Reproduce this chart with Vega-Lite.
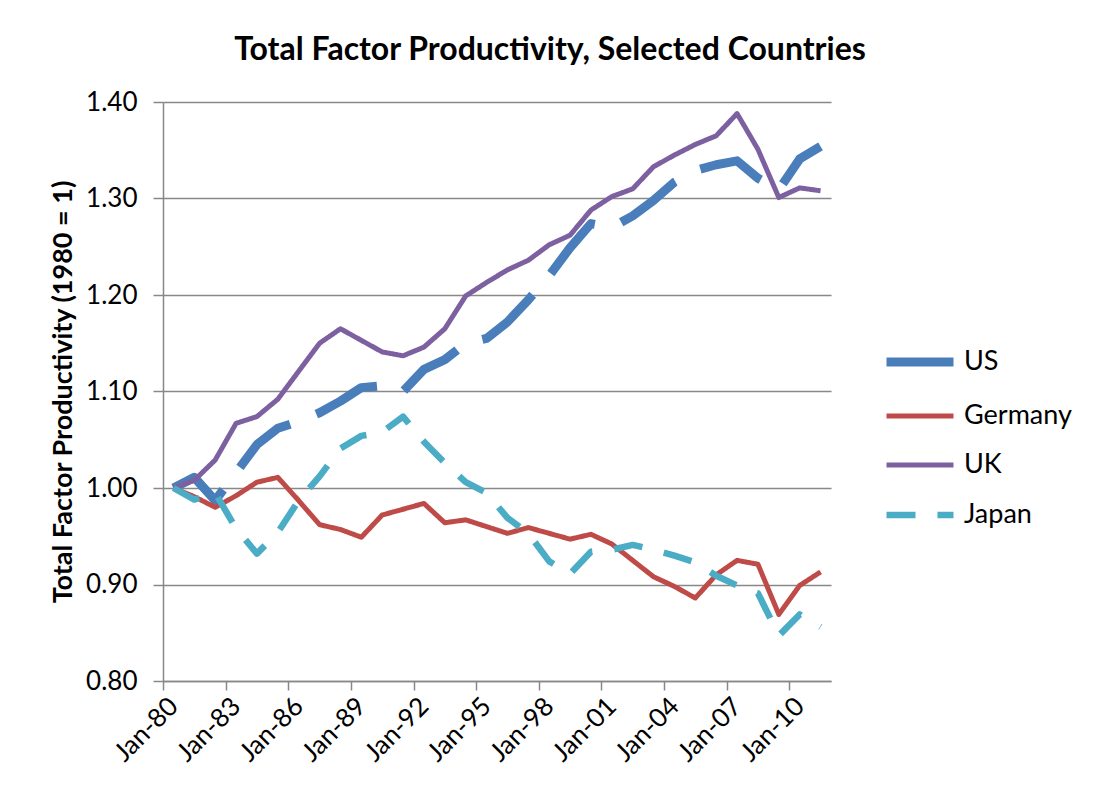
{
  "$schema": "https://vega.github.io/schema/vega-lite/v6.json",
  "width": 668,
  "height": 579,
  "autosize": {"type": "none"},
  "padding": {"left": 163, "top": 102, "right": 262, "bottom": 111},
  "background": "white",
  "title": {"text": "Total  Factor Productivity, Selected Countries", "font": "Lato", "fontSize": 32, "fontWeight": "bold", "color": "black", "anchor": "middle", "dx": 53, "offset": -3, "baseline": "alphabetic"},
  "config": {
    "view": {"stroke": null},
    "axis": {"domainColor": "#888888", "tickColor": "#888888", "gridColor": "#888888", "domainWidth": 1.5, "tickWidth": 1.5, "gridWidth": 1.5, "labelFont": "Lato", "labelColor": "black", "titleFont": "Lato", "titleColor": "black"},
    "legend": {"labelFont": "Lato", "labelFontSize": 27, "labelColor": "black"}
  },
  "data": {"values": [
    {"year": 1980, "country": "US", "value": 1.000}, {"year": 1981, "country": "US", "value": 1.011}, {"year": 1982, "country": "US", "value": 0.987}, {"year": 1983, "country": "US", "value": 1.016},
    {"year": 1984, "country": "US", "value": 1.045}, {"year": 1985, "country": "US", "value": 1.062}, {"year": 1986, "country": "US", "value": 1.069}, {"year": 1987, "country": "US", "value": 1.078},
    {"year": 1988, "country": "US", "value": 1.090}, {"year": 1989, "country": "US", "value": 1.104}, {"year": 1990, "country": "US", "value": 1.106}, {"year": 1991, "country": "US", "value": 1.100},
    {"year": 1992, "country": "US", "value": 1.123}, {"year": 1993, "country": "US", "value": 1.133}, {"year": 1994, "country": "US", "value": 1.150}, {"year": 1995, "country": "US", "value": 1.155},
    {"year": 1996, "country": "US", "value": 1.172}, {"year": 1997, "country": "US", "value": 1.195}, {"year": 1998, "country": "US", "value": 1.220}, {"year": 1999, "country": "US", "value": 1.249},
    {"year": 2000, "country": "US", "value": 1.274}, {"year": 2001, "country": "US", "value": 1.270}, {"year": 2002, "country": "US", "value": 1.282}, {"year": 2003, "country": "US", "value": 1.298},
    {"year": 2004, "country": "US", "value": 1.317}, {"year": 2005, "country": "US", "value": 1.329}, {"year": 2006, "country": "US", "value": 1.335}, {"year": 2007, "country": "US", "value": 1.339},
    {"year": 2008, "country": "US", "value": 1.321}, {"year": 2009, "country": "US", "value": 1.309}, {"year": 2010, "country": "US", "value": 1.341}, {"year": 2011, "country": "US", "value": 1.354},

    {"year": 1980, "country": "Germany", "value": 1.000}, {"year": 1981, "country": "Germany", "value": 0.991}, {"year": 1982, "country": "Germany", "value": 0.980}, {"year": 1983, "country": "Germany", "value": 0.992},
    {"year": 1984, "country": "Germany", "value": 1.006}, {"year": 1985, "country": "Germany", "value": 1.011}, {"year": 1986, "country": "Germany", "value": 0.987}, {"year": 1987, "country": "Germany", "value": 0.962},
    {"year": 1988, "country": "Germany", "value": 0.957}, {"year": 1989, "country": "Germany", "value": 0.949}, {"year": 1990, "country": "Germany", "value": 0.972}, {"year": 1991, "country": "Germany", "value": 0.978},
    {"year": 1992, "country": "Germany", "value": 0.984}, {"year": 1993, "country": "Germany", "value": 0.964}, {"year": 1994, "country": "Germany", "value": 0.967}, {"year": 1995, "country": "Germany", "value": 0.960},
    {"year": 1996, "country": "Germany", "value": 0.953}, {"year": 1997, "country": "Germany", "value": 0.959}, {"year": 1998, "country": "Germany", "value": 0.953}, {"year": 1999, "country": "Germany", "value": 0.947},
    {"year": 2000, "country": "Germany", "value": 0.952}, {"year": 2001, "country": "Germany", "value": 0.942}, {"year": 2002, "country": "Germany", "value": 0.925}, {"year": 2003, "country": "Germany", "value": 0.908},
    {"year": 2004, "country": "Germany", "value": 0.898}, {"year": 2005, "country": "Germany", "value": 0.886}, {"year": 2006, "country": "Germany", "value": 0.910}, {"year": 2007, "country": "Germany", "value": 0.925},
    {"year": 2008, "country": "Germany", "value": 0.921}, {"year": 2009, "country": "Germany", "value": 0.869}, {"year": 2010, "country": "Germany", "value": 0.899}, {"year": 2011, "country": "Germany", "value": 0.913},

    {"year": 1980, "country": "UK", "value": 1.000}, {"year": 1981, "country": "UK", "value": 1.008}, {"year": 1982, "country": "UK", "value": 1.029}, {"year": 1983, "country": "UK", "value": 1.067},
    {"year": 1984, "country": "UK", "value": 1.074}, {"year": 1985, "country": "UK", "value": 1.092}, {"year": 1986, "country": "UK", "value": 1.121}, {"year": 1987, "country": "UK", "value": 1.150},
    {"year": 1988, "country": "UK", "value": 1.165}, {"year": 1989, "country": "UK", "value": 1.153}, {"year": 1990, "country": "UK", "value": 1.141}, {"year": 1991, "country": "UK", "value": 1.137},
    {"year": 1992, "country": "UK", "value": 1.146}, {"year": 1993, "country": "UK", "value": 1.165}, {"year": 1994, "country": "UK", "value": 1.199}, {"year": 1995, "country": "UK", "value": 1.213},
    {"year": 1996, "country": "UK", "value": 1.226}, {"year": 1997, "country": "UK", "value": 1.236}, {"year": 1998, "country": "UK", "value": 1.252}, {"year": 1999, "country": "UK", "value": 1.262},
    {"year": 2000, "country": "UK", "value": 1.288}, {"year": 2001, "country": "UK", "value": 1.302}, {"year": 2002, "country": "UK", "value": 1.310}, {"year": 2003, "country": "UK", "value": 1.333},
    {"year": 2004, "country": "UK", "value": 1.345}, {"year": 2005, "country": "UK", "value": 1.356}, {"year": 2006, "country": "UK", "value": 1.365}, {"year": 2007, "country": "UK", "value": 1.388},
    {"year": 2008, "country": "UK", "value": 1.351}, {"year": 2009, "country": "UK", "value": 1.301}, {"year": 2010, "country": "UK", "value": 1.311}, {"year": 2011, "country": "UK", "value": 1.308},

    {"year": 1980, "country": "Japan", "value": 1.000}, {"year": 1981, "country": "Japan", "value": 0.988}, {"year": 1982, "country": "Japan", "value": 0.995}, {"year": 1983, "country": "Japan", "value": 0.958},
    {"year": 1984, "country": "Japan", "value": 0.932}, {"year": 1985, "country": "Japan", "value": 0.954}, {"year": 1986, "country": "Japan", "value": 0.987}, {"year": 1987, "country": "Japan", "value": 1.012},
    {"year": 1988, "country": "Japan", "value": 1.041}, {"year": 1989, "country": "Japan", "value": 1.054}, {"year": 1990, "country": "Japan", "value": 1.058}, {"year": 1991, "country": "Japan", "value": 1.074},
    {"year": 1992, "country": "Japan", "value": 1.048}, {"year": 1993, "country": "Japan", "value": 1.026}, {"year": 1994, "country": "Japan", "value": 1.006}, {"year": 1995, "country": "Japan", "value": 0.995},
    {"year": 1996, "country": "Japan", "value": 0.969}, {"year": 1997, "country": "Japan", "value": 0.953}, {"year": 1998, "country": "Japan", "value": 0.924}, {"year": 1999, "country": "Japan", "value": 0.911},
    {"year": 2000, "country": "Japan", "value": 0.934}, {"year": 2001, "country": "Japan", "value": 0.936}, {"year": 2002, "country": "Japan", "value": 0.941}, {"year": 2003, "country": "Japan", "value": 0.936},
    {"year": 2004, "country": "Japan", "value": 0.930}, {"year": 2005, "country": "Japan", "value": 0.923}, {"year": 2006, "country": "Japan", "value": 0.909}, {"year": 2007, "country": "Japan", "value": 0.899},
    {"year": 2008, "country": "Japan", "value": 0.891}, {"year": 2009, "country": "Japan", "value": 0.847}, {"year": 2010, "country": "Japan", "value": 0.869}, {"year": 2011, "country": "Japan", "value": 0.856}
  ]},
  "mark": {"type": "line", "strokeCap": "butt", "strokeJoin": "round"},
  "encoding": {
    "x": {
      "field": "year", "type": "quantitative",
      "scale": {"domain": [1979.5, 2011.5], "nice": false, "zero": false},
      "axis": {
        "title": null, "grid": false,
        "values": [1980, 1983, 1986, 1989, 1992, 1995, 1998, 2001, 2004, 2007, 2010],
        "labelExpr": "'Jan-' + slice(toString(datum.value), 2)",
        "tickOffset": -10.4375, "labelOffset": 10.4375,
        "tickSize": 9, "labelAngle": -45, "labelAlign": "right", "labelBaseline": "middle",
        "labelPadding": 12, "labelFontSize": 26, "labelOverlap": false, "labelBound": false, "labelFlush": false
      }
    },
    "y": {
      "field": "value", "type": "quantitative",
      "scale": {"domain": [0.8, 1.4], "nice": false, "zero": false},
      "axis": {
        "title": "Total Factor Productivity (1980 = 1)", "titleFontSize": 27, "titleFontWeight": "bold", "titlePadding": 8,
        "values": [0.8, 0.9, 1.0, 1.1, 1.2, 1.3, 1.4], "format": ".2f",
        "grid": true, "tickSize": 10, "labelPadding": 16, "labelFontSize": 26, "labelOverlap": false, "labelFlush": false
      }
    },
    "color": {
      "field": "country", "type": "nominal",
      "scale": {"domain": ["US", "Germany", "UK", "Japan"], "range": ["#4A7EBB", "#BE4B48", "#7D60A0", "#4BACC6"]},
      "legend": {"title": null, "orient": "none", "legendX": 719, "legendY": 222, "symbolType": "stroke", "symbolSize": 4489, "labelOffset": 6, "rowPadding": -1}
    },
    "strokeDash": {
      "field": "country", "type": "nominal",
      "scale": {"domain": ["US", "Germany", "UK", "Japan"], "range": [[68, 28], [1, 0], [1, 0], [29, 22]]},
      "legend": {"title": null, "orient": "none", "legendX": 719, "legendY": 222, "symbolType": "stroke", "symbolSize": 4489, "labelOffset": 6, "rowPadding": -1}
    },
    "strokeWidth": {
      "field": "country", "type": "nominal",
      "scale": {"type": "ordinal", "domain": ["US", "Germany", "UK", "Japan"], "range": [9, 5, 5, 6.5]},
      "legend": {"title": null, "orient": "none", "legendX": 719, "legendY": 222, "symbolType": "stroke", "symbolSize": 4489, "labelOffset": 6, "rowPadding": -1}
    }
  }
}
